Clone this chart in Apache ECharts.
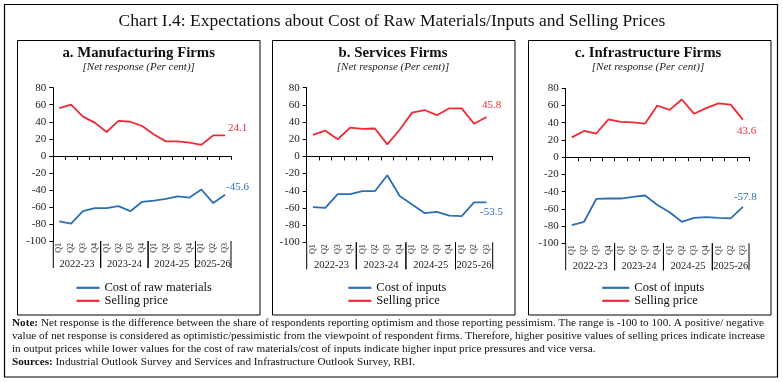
<!DOCTYPE html>
<html><head><meta charset="utf-8">
<script src="https://cdn.jsdelivr.net/npm/echarts@6/dist/echarts.min.js"></script>
<style>html,body{margin:0;padding:0;background:#fff}#c{width:783px;height:382px}</style>
</head><body><div id="c"></div>
<script>
const quarters = ['Q1','Q2','Q3','Q4','Q1','Q2','Q3','Q4','Q1','Q2','Q3','Q4','Q1','Q2','Q3'];
const years = ['2022-23','2023-24','2024-25','2025-26'];
const yearSpans = [4,4,4,3];
const mfgCost = [-77, -79.5, -65, -61.5, -61.5, -59, -65, -54, -52.5, -50.5, -47.5, -49, -39.5, -55.5, -45.6];
const mfgSelling = [56, 60, 46, 39, 28, 41, 40, 35, 25, 17, 17, 15.5, 13, 24, 24.1];
const svcCost = [-59, -60, -44, -44, -40.5, -40.5, -22, -46, -56, -66, -64.5, -69, -69.5, -53.5, -53.5];
const svcSelling = [25, 30, 20, 33.5, 32, 32.5, 14, 31, 51, 54, 48, 56, 56, 38, 45.8];
const infCost = [-79, -75, -48.5, -48, -48, -46, -44.5, -55.5, -64, -75, -70.5, -69.5, -70.5, -71, -57.8];
const infSelling = [23, 30.5, 27.5, 44, 41, 40.5, 39, 60, 55, 67, 50.5, 57, 62.5, 61, 43.6];
const yMin = -100, yMax = 80, yStep = 20;

const FONT = '"Liberation Serif", "DejaVu Serif", serif';
const RED = '#ee2a36';
const BLUE = '#2c6fb5';

const panels = [
  {title:'a. Manufacturing Firms', costName:'Cost of raw materials', cost:mfgCost, selling:mfgSelling,
   grid:{left:53.3, top:87.7, width:177.7, height:153.3}, cx:138.7,
   costOff:[1,-7.5], sellOff:[3,-7.5], legendLeft:76.5, legendW:23},
  {title:'b. Services Firms', costName:'Cost of inputs', cost:svcCost, selling:svcSelling,
   grid:{left:306.7, top:87.7, width:186, height:154.6}, cx:393,
   costOff:[-6.5,10], sellOff:[-4.5,-11.7], legendLeft:348.3, legendW:23},
  {title:'c. Infrastructure Firms', costName:'Cost of inputs', cost:infCost, selling:infSelling,
   grid:{left:565.7, top:88.3, width:183.3, height:155}, cx:648,
   costOff:[-9,-10], sellOff:[-6,11.3], legendLeft:602.3, legendW:27}
];

// year group boundaries from spans
const groupData = [];
let acc = 0;
yearSpans.forEach((s, i) => { groupData.push([acc, acc + s, i]); acc += s; });

const grid = [], xAxis = [], yAxis = [], series = [], legend = [];
panels.forEach((p, i) => {
  grid.push(Object.assign({containLabel:false}, p.grid));
  xAxis.push({type:'category', gridIndex:i, data:quarters, boundaryGap:true,
    axisLine:{onZero:true, lineStyle:{color:'#000', width:1}},
    axisTick:{show:true, length:4, interval:0, lineStyle:{color:'#000'}},
    axisLabel:{show:false}, splitLine:{show:false}});
  xAxis.push({type:'category', gridIndex:i, data:quarters, position:'bottom',
    axisLine:{show:false, onZero:false}, axisTick:{show:false},
    axisLabel:{show:true, rotate:90, interval:0, fontSize:8, margin:2, color:'#222', fontFamily:FONT}});
  xAxis.push({type:'value', gridIndex:i, min:0, max:quarters.length, show:false});
  yAxis.push({type:'value', gridIndex:i, min:yMin, max:yMax, interval:yStep,
    axisLine:{show:true, lineStyle:{color:'#000', width:1}},
    axisTick:{show:true, length:4, lineStyle:{color:'#000'}},
    axisLabel:{fontSize:11, color:'#222', margin:7, fontFamily:FONT},
    splitLine:{show:false}});
  series.push({name:p.costName, type:'line', xAxisIndex:3*i, yAxisIndex:i, data:p.cost,
    symbol:'none', color:BLUE, lineStyle:{width:1.8, color:BLUE}, animation:false,
    endLabel:{show:true, distance:0, offset:p.costOff, color:BLUE, fontSize:11, fontFamily:FONT,
      formatter: q => String(q.value)}});
  series.push({name:'Selling price', type:'line', xAxisIndex:3*i, yAxisIndex:i, data:p.selling,
    symbol:'none', color:RED, lineStyle:{width:1.8, color:RED}, animation:false,
    endLabel:{show:true, distance:0, offset:p.sellOff, color:RED, fontSize:11, fontFamily:FONT,
      formatter: q => String(q.value)}});
  series.push({type:'custom', xAxisIndex:3*i+2, yAxisIndex:i, data:groupData, clip:false, animation:false,
    silent:true,
    renderItem:(params, api) => {
      const a = api.coord([api.value(0), yMin]);
      const b = api.coord([api.value(1), yMin]);
      const lab = years[params.dataIndex];
      return {type:'group', children:[
        {type:'line', shape:{x1:a[0], y1:a[1], x2:a[0], y2:a[1]+27}, style:{stroke:'#000', lineWidth:1}},
        {type:'line', shape:{x1:b[0], y1:b[1], x2:b[0], y2:b[1]+27}, style:{stroke:'#000', lineWidth:1}},
        {type:'text', style:{x:(a[0]+b[0])/2, y:a[1]+23, text:lab, align:'center', verticalAlign:'middle',
          fontSize:10.5, fontFamily:FONT, fill:'#222'}}
      ]};
    }});
  legend.push({orient:'vertical', left:p.legendLeft, top:281.3, padding:0, itemWidth:p.legendW, itemHeight:2.2,
    icon:'rect', itemGap:0, data:[p.costName, 'Selling price'],
    textStyle:{fontSize:12.5, lineHeight:12, color:'#111', fontFamily:FONT}});
});

const graphic = [
  {type:'rect', shape:{x:4.5, y:4.5, width:773, height:372.5}, style:{fill:'none', stroke:'#000', lineWidth:1.2}, silent:true},
  {type:'text', x:392, y:21, style:{text:'Chart I.4: Expectations about Cost of Raw Materials/Inputs and Selling Prices',
    align:'center', verticalAlign:'middle', fontSize:17.5, fontFamily:FONT, fill:'#111'}},
  {type:'rect', shape:{x:17.5, y:40.5, width:242.5, height:274.5}, style:{fill:'none', stroke:'#000', lineWidth:1}},
  {type:'rect', shape:{x:272.5, y:40.5, width:242.5, height:274.5}, style:{fill:'none', stroke:'#000', lineWidth:1}},
  {type:'rect', shape:{x:528.5, y:40.5, width:242.5, height:274.5}, style:{fill:'none', stroke:'#000', lineWidth:1}},
  {type:'text', x:12, y:323, style:{text:'{b|Note:} Net response is the difference between the share of respondents reporting optimism and those reporting pessimism. The range is -100 to 100. A positive/ negative',
    verticalAlign:'middle', fontSize:11.2, fontFamily:FONT, fill:'#111', rich:{b:{fontWeight:'bold', fontSize:11.2, fontFamily:FONT}}}},
  {type:'text', x:12, y:336, style:{text:'value of net response is considered as optimistic/pessimistic from the viewpoint of respondent firms. Therefore, higher positive values of selling prices indicate increase',
    verticalAlign:'middle', fontSize:11.2, fontFamily:FONT, fill:'#111'}},
  {type:'text', x:12, y:349, style:{text:'in output prices while lower values for the cost of raw materials/cost of inputs indicate higher input price pressures and vice versa.',
    verticalAlign:'middle', fontSize:11.2, fontFamily:FONT, fill:'#111'}},
  {type:'text', x:12, y:362, style:{text:'{b|Sources:} Industrial Outlook Survey and Services and Infrastructure Outlook Survey, RBI.',
    verticalAlign:'middle', fontSize:11.2, fontFamily:FONT, fill:'#111', rich:{b:{fontWeight:'bold', fontSize:11.2, fontFamily:FONT}}}}
];
panels.forEach(p => {
  graphic.push({type:'text', x:p.cx, y:52.7, style:{text:p.title, align:'center', verticalAlign:'middle',
    fontSize:14.8, fontWeight:'bold', fontFamily:FONT, fill:'#111'}});
  graphic.push({type:'text', x:p.cx, y:66.7, style:{text:'[Net response (Per cent)]', align:'center', verticalAlign:'middle',
    fontSize:11, fontStyle:'italic', fontFamily:FONT, fill:'#222'}});
});

const chart = echarts.init(document.getElementById('c'), null, {renderer:'canvas'});
chart.setOption({animation:false, backgroundColor:'#fff', grid, xAxis, yAxis, series, legend, graphic});
</script></body></html>
